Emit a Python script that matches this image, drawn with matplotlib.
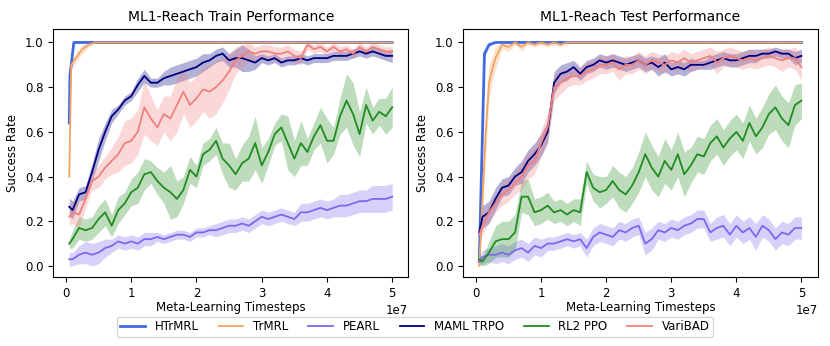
import numpy as np
import matplotlib
matplotlib.use("Agg")
import matplotlib.pyplot as plt

# timesteps (in millions) shared by the noisy curves
steps = np.array([0.5] + list(range(1, 51))) * 1e6

# ---------------- Train panel ----------------
train_htrmrl_x = np.array([0.5, 0.6, 1.2, 50]) * 1e6
train_htrmrl = [0.64, 0.85, 1.0, 1.0]
train_htrmrl_w = [0.03, 0.02, 0.0, 0.0]

train_trmrl_x = np.array([0.5, 0.8, 1.5, 2.5, 3.5, 4.5, 50]) * 1e6
train_trmrl = [0.40, 0.90, 0.93, 0.97, 0.99, 1.0, 1.0]
train_trmrl_w = [0.03, 0.02, 0.02, 0.02, 0.01, 0.0, 0.0]

train_maml = [0.265, 0.25, 0.32, 0.33, 0.42, 0.52, 0.60, 0.67, 0.70, 0.74, 0.76,
              0.81, 0.85, 0.82, 0.82, 0.84, 0.85, 0.86, 0.87, 0.88, 0.89,
              0.91, 0.92, 0.94, 0.95, 0.92, 0.93, 0.93, 0.92, 0.91, 0.93,
              0.92, 0.93, 0.91, 0.92, 0.92, 0.93, 0.92, 0.93, 0.93, 0.93,
              0.94, 0.94, 0.94, 0.95, 0.96, 0.95, 0.96, 0.95, 0.94, 0.94]
train_maml_w = [0.04, 0.04, 0.03, 0.03, 0.04, 0.05, 0.04, 0.03, 0.02, 0.02, 0.02,
                0.03, 0.03, 0.02, 0.02, 0.03, 0.04, 0.04, 0.04, 0.04, 0.04,
                0.04, 0.03, 0.03, 0.03, 0.03, 0.04, 0.06, 0.05, 0.03, 0.02,
                0.02, 0.02, 0.02, 0.02, 0.02, 0.02, 0.02, 0.02, 0.02, 0.02,
                0.02, 0.02, 0.02, 0.02, 0.02, 0.02, 0.02, 0.02, 0.02, 0.03]

train_varibad = [0.22, 0.24, 0.23, 0.30, 0.38, 0.40, 0.44, 0.47, 0.50, 0.55, 0.56,
                 0.60, 0.71, 0.66, 0.62, 0.68, 0.66, 0.72, 0.78, 0.72, 0.75,
                 0.79, 0.78, 0.80, 0.83, 0.87, 0.92, 0.94, 0.96, 0.95, 0.96,
                 0.96, 0.95, 0.95, 0.96, 0.94, 0.93, 0.99, 0.97, 0.98, 0.96,
                 0.98, 0.96, 0.97, 0.95, 0.98, 0.96, 0.98, 0.97, 0.96, 0.96]
train_varibad_w = [0.04, 0.05, 0.06, 0.04, 0.04, 0.05, 0.05, 0.06, 0.08, 0.10, 0.10,
                   0.10, 0.12, 0.10, 0.08, 0.08, 0.10, 0.12, 0.10, 0.10, 0.10,
                   0.10, 0.12, 0.12, 0.10, 0.08, 0.06, 0.05, 0.04, 0.03, 0.03,
                   0.03, 0.03, 0.03, 0.03, 0.03, 0.03, 0.02, 0.02, 0.02, 0.02,
                   0.02, 0.02, 0.02, 0.02, 0.02, 0.02, 0.02, 0.02, 0.02, 0.02]

train_rl2 = [0.10, 0.12, 0.17, 0.16, 0.17, 0.21, 0.24, 0.18, 0.25, 0.28, 0.33,
             0.35, 0.41, 0.42, 0.38, 0.35, 0.33, 0.30, 0.34, 0.43, 0.40,
             0.50, 0.52, 0.56, 0.48, 0.45, 0.41, 0.46, 0.48, 0.55, 0.45,
             0.51, 0.59, 0.62, 0.55, 0.48, 0.55, 0.51, 0.58, 0.63, 0.56,
             0.56, 0.67, 0.74, 0.68, 0.59, 0.72, 0.65, 0.69, 0.67, 0.71]
train_rl2_w = [0.02, 0.04, 0.05, 0.05, 0.05, 0.06, 0.06, 0.05, 0.06, 0.05, 0.06,
               0.07, 0.07, 0.05, 0.06, 0.07, 0.12, 0.08, 0.06, 0.06, 0.05,
               0.05, 0.05, 0.06, 0.07, 0.10, 0.07, 0.08, 0.10, 0.12, 0.08,
               0.06, 0.05, 0.06, 0.12, 0.08, 0.10, 0.06, 0.06, 0.08, 0.10,
               0.06, 0.08, 0.12, 0.14, 0.10, 0.08, 0.06, 0.06, 0.08, 0.09]

train_pearl = [0.03, 0.03, 0.05, 0.06, 0.05, 0.06, 0.08, 0.09, 0.11, 0.10, 0.11,
               0.10, 0.12, 0.12, 0.13, 0.12, 0.13, 0.14, 0.14, 0.13, 0.15,
               0.15, 0.16, 0.16, 0.17, 0.18, 0.18, 0.19, 0.18, 0.20, 0.22,
               0.21, 0.22, 0.23, 0.22, 0.21, 0.24, 0.24, 0.25, 0.26, 0.25,
               0.26, 0.27, 0.27, 0.28, 0.29, 0.29, 0.30, 0.30, 0.30, 0.31]
train_pearl_w = [0.03, 0.03, 0.04, 0.05, 0.05, 0.05, 0.04, 0.03, 0.03, 0.03, 0.03,
                 0.03, 0.03, 0.03, 0.02, 0.02, 0.02, 0.02, 0.02, 0.02, 0.02,
                 0.02, 0.02, 0.03, 0.03, 0.03, 0.03, 0.03, 0.03, 0.03, 0.03,
                 0.03, 0.03, 0.03, 0.03, 0.03, 0.04, 0.04, 0.04, 0.04, 0.04,
                 0.04, 0.05, 0.05, 0.05, 0.05, 0.05, 0.06, 0.06, 0.06, 0.06]

# ---------------- Test panel ----------------
test_htrmrl_x = np.array([0.5, 1.0, 1.3, 2.0, 3.0, 50]) * 1e6
test_htrmrl = [0.02, 0.60, 0.95, 0.99, 1.0, 1.0]
test_htrmrl_w = [0.01, 0.03, 0.02, 0.01, 0.0, 0.0]

test_trmrl_x = np.array([0.5, 1, 1.5, 2, 2.5, 3, 4, 5, 6, 7, 8, 9, 10, 11, 12, 13, 14, 16, 50]) * 1e6
test_trmrl = [0.0, 0.30, 0.60, 0.82, 0.88, 0.93, 0.99, 0.98, 1.0, 0.98, 1.0,
              0.99, 1.0, 0.99, 1.0, 0.99, 1.0, 1.0, 1.0]
test_trmrl_w = [0.01, 0.08, 0.10, 0.08, 0.06, 0.05, 0.02, 0.02, 0.01, 0.02, 0.01,
                0.01, 0.01, 0.01, 0.01, 0.01, 0.0, 0.0, 0.0]

test_maml = [0.15, 0.22, 0.24, 0.30, 0.35, 0.36, 0.40, 0.42, 0.47, 0.50, 0.54,
             0.60, 0.82, 0.86, 0.87, 0.89, 0.86, 0.89, 0.90, 0.92, 0.91,
             0.92, 0.91, 0.90, 0.91, 0.92, 0.90, 0.91, 0.89, 0.91, 0.88,
             0.89, 0.88, 0.90, 0.90, 0.90, 0.91, 0.92, 0.93, 0.92, 0.92,
             0.93, 0.94, 0.94, 0.95, 0.95, 0.96, 0.95, 0.95, 0.93, 0.94]
test_maml_w = [0.04, 0.05, 0.05, 0.05, 0.04, 0.04, 0.04, 0.05, 0.05, 0.05, 0.05,
               0.05, 0.05, 0.04, 0.04, 0.03, 0.03, 0.03, 0.03, 0.03, 0.03,
               0.03, 0.03, 0.03, 0.03, 0.03, 0.03, 0.03, 0.04, 0.04, 0.03,
               0.03, 0.03, 0.03, 0.02, 0.02, 0.03, 0.03, 0.03, 0.03, 0.03,
               0.03, 0.03, 0.03, 0.02, 0.02, 0.02, 0.02, 0.02, 0.03, 0.03]

test_varibad = [0.14, 0.18, 0.24, 0.28, 0.32, 0.34, 0.37, 0.40, 0.45, 0.47, 0.55,
                0.62, 0.80, 0.82, 0.84, 0.85, 0.85, 0.87, 0.88, 0.90, 0.90,
                0.91, 0.88, 0.90, 0.90, 0.92, 0.90, 0.92, 0.91, 0.90, 0.92,
                0.91, 0.93, 0.91, 0.92, 0.93, 0.94, 0.91, 0.93, 0.94, 0.93,
                0.92, 0.93, 0.92, 0.93, 0.94, 0.93, 0.92, 0.93, 0.93, 0.89]
test_varibad_w = [0.03, 0.04, 0.04, 0.04, 0.05, 0.05, 0.05, 0.06, 0.06, 0.06, 0.06,
                  0.06, 0.06, 0.05, 0.04, 0.04, 0.04, 0.04, 0.04, 0.04, 0.04,
                  0.04, 0.05, 0.04, 0.04, 0.04, 0.04, 0.04, 0.04, 0.04, 0.04,
                  0.04, 0.04, 0.04, 0.04, 0.04, 0.04, 0.05, 0.04, 0.04, 0.04,
                  0.04, 0.04, 0.04, 0.04, 0.04, 0.04, 0.05, 0.04, 0.05, 0.06]

test_rl2 = [0.03, 0.02, 0.06, 0.11, 0.12, 0.12, 0.15, 0.31, 0.31, 0.24, 0.25,
            0.27, 0.24, 0.25, 0.23, 0.25, 0.24, 0.42, 0.35, 0.33, 0.34,
            0.38, 0.34, 0.32, 0.36, 0.42, 0.50, 0.44, 0.40, 0.47, 0.43,
            0.50, 0.41, 0.45, 0.50, 0.49, 0.55, 0.58, 0.53, 0.57, 0.60,
            0.56, 0.64, 0.58, 0.62, 0.68, 0.71, 0.66, 0.63, 0.72, 0.74]
test_rl2_w = [0.02, 0.02, 0.05, 0.07, 0.08, 0.08, 0.08, 0.07, 0.08, 0.06, 0.06,
              0.06, 0.05, 0.05, 0.05, 0.05, 0.06, 0.05, 0.06, 0.07, 0.06,
              0.07, 0.08, 0.08, 0.08, 0.09, 0.10, 0.10, 0.09, 0.10, 0.09,
              0.10, 0.10, 0.08, 0.08, 0.08, 0.08, 0.08, 0.08, 0.08, 0.08,
              0.08, 0.08, 0.08, 0.09, 0.09, 0.10, 0.10, 0.10, 0.09, 0.08]

test_pearl = [0.02, 0.04, 0.05, 0.05, 0.06, 0.05, 0.07, 0.08, 0.06, 0.09, 0.08,
              0.10, 0.10, 0.11, 0.12, 0.11, 0.12, 0.08, 0.13, 0.15, 0.14,
              0.13, 0.16, 0.15, 0.17, 0.18, 0.10, 0.12, 0.16, 0.15, 0.17,
              0.16, 0.18, 0.19, 0.21, 0.21, 0.15, 0.17, 0.18, 0.14, 0.18,
              0.15, 0.17, 0.13, 0.18, 0.16, 0.12, 0.15, 0.14, 0.17, 0.17]
test_pearl_w = [0.02, 0.03, 0.03, 0.04, 0.04, 0.04, 0.04, 0.04, 0.04, 0.04, 0.04,
                0.03, 0.03, 0.03, 0.03, 0.03, 0.03, 0.04, 0.04, 0.04, 0.04,
                0.04, 0.04, 0.04, 0.04, 0.04, 0.05, 0.05, 0.04, 0.04, 0.04,
                0.04, 0.04, 0.04, 0.04, 0.04, 0.04, 0.05, 0.05, 0.05, 0.05,
                0.05, 0.05, 0.06, 0.05, 0.05, 0.05, 0.05, 0.05, 0.05, 0.05]

labels = ["HTrMRL", "TrMRL", "PEARL", "MAML TRPO", "RL2 PPO", "VariBAD"]
colors = ["royalblue", "sandybrown", "mediumslateblue", "navy", "forestgreen", "lightcoral"]

train = [
    (train_htrmrl_x, train_htrmrl, train_htrmrl_w),
    (train_trmrl_x, train_trmrl, train_trmrl_w),
    (steps, train_pearl, train_pearl_w),
    (steps, train_maml, train_maml_w),
    (steps, train_rl2, train_rl2_w),
    (steps, train_varibad, train_varibad_w),
]
test = [
    (test_htrmrl_x, test_htrmrl, test_htrmrl_w),
    (test_trmrl_x, test_trmrl, test_trmrl_w),
    (steps, test_pearl, test_pearl_w),
    (steps, test_maml, test_maml_w),
    (steps, test_rl2, test_rl2_w),
    (steps, test_varibad, test_varibad_w),
]

fig = plt.figure(figsize=(8.3, 3.46), dpi=100)
ax1 = fig.add_axes([0.064, 0.199, 0.428, 0.717])
ax2 = fig.add_axes([0.558, 0.199, 0.427, 0.717])

for ax, data, title in [(ax1, train, "ML1-Reach Train Performance"),
                        (ax2, test, "ML1-Reach Test Performance")]:
    lines = []
    for (x, y, w), lab, c in zip(data, labels, colors):
        y = np.array(y)
        w = np.array(w)
        ax.fill_between(x, np.clip(y - w, 0, 1), np.clip(y + w, 0, 1), color=c, alpha=0.3, linewidth=0)
        lw = 2.0 if lab == "HTrMRL" else 1.3
        ln, = ax.plot(x, y, color=c, linewidth=lw, label=lab)
        lines.append(ln)
    ax.set_title(title, fontsize=10)
    ax.set_xlabel("Meta-Learning Timesteps", fontsize=8.5, labelpad=1)
    ax.set_ylabel("Success Rate", fontsize=8.5)
    ax.tick_params(labelsize=8.5)
    ax.set_ylim(-0.05, 1.06)
    ax.xaxis.get_offset_text().set_fontsize(8.5)

fig.legend(lines, labels, loc="center", bbox_to_anchor=(0.5, 0.056), ncol=6,
           fontsize=8.5, frameon=True, handlelength=2.1, columnspacing=1.7,
           borderpad=0.3)

plt.savefig("out.png", dpi=100)
